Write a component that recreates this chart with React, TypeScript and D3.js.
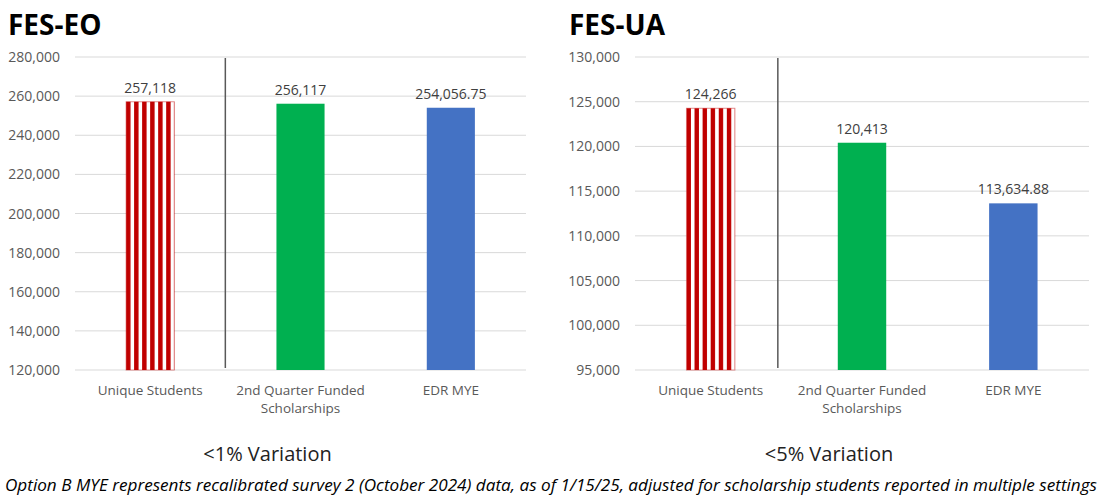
import React, { useEffect, useRef } from "react";
import * as d3 from "d3";

// categories shared by both panels
const categories = ["Unique Students", "2nd Quarter Funded Scholarships", "EDR MYE"];
const categoryLines = [["Unique Students"], ["2nd Quarter Funded", "Scholarships"], ["EDR MYE"]];

// FES-EO values
const eoValues = [257118, 256117, 254056.75];
const eoTicks = [120000, 140000, 160000, 180000, 200000, 220000, 240000, 260000, 280000];

// FES-UA values
const uaValues = [124266, 120413, 113634.88];
const uaTicks = [95000, 100000, 105000, 110000, 115000, 120000, 125000, 130000];

const barColors = ["#C00000", "#00B050", "#4472C4"];
const footnote =
    "Option B MYE represents recalibrated survey 2 (October 2024) data, as of 1/15/25, adjusted for scholarship students reported in multiple settings";

const FONT = "'Open Sans', sans-serif";

function App() {
    const chart = useRef(null);

    useEffect(() => {
        const svg = d3.select(chart.current)
            .attr("width", 1101)
            .attr("height", 497);

        const defs = svg.append("defs");

        const panels = [
            { id: "eo", title: "FES-EO", subtitle: "<1% Variation", values: eoValues, ticks: eoTicks, left: 75, right: 526, titleX: 8, dividerShift: 0 },
            { id: "ua", title: "FES-UA", subtitle: "<5% Variation", values: uaValues, ticks: uaTicks, left: 635, right: 1089, titleX: 569, dividerShift: -8.5 }
        ];
        const top = 57;
        const bottom = 370;

        panels.forEach(p => {
            const g = svg.append("g");

            const x = d3.scaleBand()
                .domain(categories)
                .range([p.left, p.right])
                .paddingInner(0.68)
                .paddingOuter(0.34);

            const y = d3.scaleLinear()
                .domain([p.ticks[0], p.ticks[p.ticks.length - 1]])
                .range([bottom, top]);

            // title
            g.append("text")
                .attr("x", p.titleX)
                .attr("y", 35)
                .attr("font-family", FONT)
                .attr("font-weight", 700)
                .attr("font-size", 28)
                .attr("fill", "#000")
                .text(p.title);

            // gridlines
            g.selectAll(".grid")
                .data(p.ticks)
                .enter()
                .append("line")
                    .attr("x1", p.left)
                    .attr("x2", p.right)
                    .attr("y1", d => y(d))
                    .attr("y2", d => y(d))
                    .attr("stroke", "#D9D9D9")
                    .attr("stroke-width", 1);

            // y tick labels
            g.selectAll(".ylab")
                .data(p.ticks)
                .enter()
                .append("text")
                    .attr("x", p.left - 15)
                    .attr("y", d => y(d))
                    .attr("dy", "0.36em")
                    .attr("text-anchor", "end")
                    .attr("font-family", FONT)
                    .attr("font-size", 14)
                    .attr("fill", "#595959")
                    .text(d => d3.format(",")(d));

            // striped pattern for first bar
            const bw = x.bandwidth();
            const pat = defs.append("pattern")
                .attr("id", "stripes-" + p.id)
                .attr("patternUnits", "userSpaceOnUse")
                .attr("x", x(categories[0]))
                .attr("y", 0)
                .attr("width", bw / 6)
                .attr("height", 10);
            pat.append("rect")
                .attr("width", bw / 6)
                .attr("height", 10)
                .attr("fill", "#fff");
            pat.append("rect")
                .attr("width", bw / 6 * 0.55)
                .attr("height", 10)
                .attr("fill", barColors[0]);

            // bars
            g.selectAll(".bar")
                .data(p.values)
                .enter()
                .append("rect")
                    .attr("x", (d, i) => x(categories[i]))
                    .attr("y", d => y(d))
                    .attr("width", bw)
                    .attr("height", d => bottom - y(d))
                    .attr("fill", (d, i) => i === 0 ? `url(#stripes-${p.id})` : barColors[i])
                    .attr("stroke", (d, i) => i === 0 ? "rgba(192,0,0,0.45)" : "none")
                    .attr("stroke-width", 1);

            // value labels
            g.selectAll(".vlab")
                .data(p.values)
                .enter()
                .append("text")
                    .attr("x", (d, i) => x(categories[i]) + bw / 2)
                    .attr("y", d => y(d) - 9)
                    .attr("text-anchor", "middle")
                    .attr("font-family", FONT)
                    .attr("font-size", 14)
                    .attr("fill", "#404040")
                    .text(d => d3.format(",")(d));

            // category labels
            categoryLines.forEach((lines, i) => {
                lines.forEach((line, j) => {
                    g.append("text")
                        .attr("x", x(categories[i]) + bw / 2)
                        .attr("y", bottom + 25 + j * 18)
                        .attr("text-anchor", "middle")
                        .attr("font-family", FONT)
                        .attr("font-size", 13.5)
                        .attr("fill", "#595959")
                        .text(line);
                });
            });

            // divider between first and second category
            const divX = x(categories[0]) + bw / 2 + x.step() / 2 + p.dividerShift;
            g.append("line")
                .attr("x1", divX)
                .attr("x2", divX)
                .attr("y1", top + 1)
                .attr("y2", bottom - 2)
                .attr("stroke", "#595959")
                .attr("stroke-width", 1.5);

            // subtitle
            g.append("text")
                .attr("x", (p.left + p.right) / 2 - 33)
                .attr("y", 461)
                .attr("text-anchor", "middle")
                .attr("font-family", FONT)
                .attr("font-size", 20)
                .attr("fill", "#222")
                .text(p.subtitle);
        });

        svg.append("text")
            .attr("x", 5)
            .attr("y", 491)
            .attr("font-family", FONT)
            .attr("font-style", "italic")
            .attr("font-size", 15.5)
            .attr("textLength", 1092)
            .attr("lengthAdjust", "spacingAndGlyphs")
            .attr("fill", "#000")
            .text(footnote);

        return () => {
            svg.selectAll("*").remove();
        };
    }, []);

    return (
        <svg ref={chart} style={{ position: "absolute", left: 0, top: 0, background: "#fff" }}></svg>
    );
}

export default App;
